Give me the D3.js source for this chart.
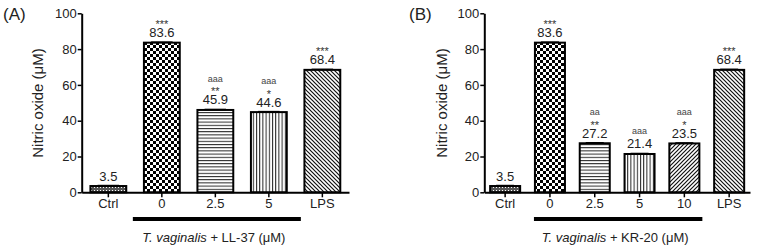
<!DOCTYPE html>
<html><head><meta charset="utf-8">
<script src="https://cdn.jsdelivr.net/npm/d3@7"></script>
<style>
html,body{margin:0;padding:0;background:#fff;}
svg{display:block;font-family:"Liberation Sans",Arial,sans-serif;}
</style></head>
<body>
<svg id="chart" width="759" height="247"></svg>
<script>
// ---- data ----
const yTicks = [0, 20, 40, 60, 80, 100];

const catsA = ["Ctrl", "0", "2.5", "5", "LPS"];
const valsA = [3.5, 83.6, 46.0, 44.8, 68.4];
const labelsA = ["3.5", "83.6", "45.9", "44.6", "68.4"];
const starsA = ["", "***", "**", "*", "***"];
const lettersA = ["", "", "aaa", "aaa", ""];
const patternsA = ["dots", "checker", "hlines", "vlines", "diagDown"];
const groupA = ["0", "5"];
const titleA = "(A)";
const xTitleA = ["T. vaginalis", " + LL-37 (μM)"];

const catsB = ["Ctrl", "0", "2.5", "5", "10", "LPS"];
const valsB = [3.5, 83.6, 27.4, 21.4, 27.3, 68.4];
const labelsB = ["3.5", "83.6", "27.2", "21.4", "23.5", "68.4"];
const starsB = ["", "***", "**", "", "*", "***"];
const lettersB = ["", "", "aa", "aaa", "aaa", ""];
const patternsB = ["dots", "checker", "hlines", "vlines", "diagUp", "diagDown"];
const groupB = ["0", "10"];
const titleB = "(B)";
const xTitleB = ["T. vaginalis", " + KR-20 (μM)"];

const yTitle = "Nitric oxide (μM)";

// ---- patterns ----
const svg = d3.select("#chart");
const defs = svg.append("defs");
function pat(id, w, h, draw) {
  const p = defs.append("pattern").attr("id", id).attr("patternUnits", "userSpaceOnUse")
    .attr("width", w).attr("height", h);
  p.append("rect").attr("width", w).attr("height", h).attr("fill", "#fff");
  draw(p);
}
pat("dots", 3, 3, p => {
  p.append("rect").attr("width", 3).attr("height", 3).attr("fill", "#555");
  p.append("rect").attr("x", 1).attr("y", 1).attr("width", 1).attr("height", 1).attr("fill", "#fff");
});
pat("checker", 6, 6, p => {
  p.append("rect").attr("width", 3).attr("height", 3).attr("fill", "#000");
  p.append("rect").attr("x", 3).attr("y", 3).attr("width", 3).attr("height", 3).attr("fill", "#000");
});
pat("hlines", 4, 3.2, p => {
  p.append("rect").attr("y", 0).attr("width", 4).attr("height", 1).attr("fill", "#222");
});
pat("vlines", 3.2, 4, p => {
  p.append("rect").attr("x", 0).attr("width", 1).attr("height", 4).attr("fill", "#222");
});
pat("diagDown", 4, 4, p => {
  p.append("path").attr("d", "M-1,-1 L5,5 M-1,3 L1,5 M3,-1 L5,1").attr("stroke", "#111").attr("stroke-width", 1.2);
});
pat("diagUp", 4, 4, p => {
  p.append("path").attr("d", "M-1,5 L5,-1 M-1,1 L1,-1 M3,5 L5,3").attr("stroke", "#111").attr("stroke-width", 1.2);
});

// ---- panel drawing ----
function panel(cfg) {
  const g = svg.append("g");
  const y = d3.scaleLinear().domain([0, 100]).range([192.3, 13.3]);
  const x = d3.scaleBand().domain(cfg.cats).range([cfg.x0, cfg.x1])
    .paddingInner(0.33).paddingOuter(cfg.pOuter);
  const bw = x.bandwidth();

  // bars
  cfg.cats.forEach((c, i) => {
    const v = cfg.vals[i];
    g.append("rect").attr("x", x(c)).attr("y", y(v)).attr("width", bw)
      .attr("height", y(0) - y(v)).attr("fill", "url(#" + cfg.pats[i] + ")")
      .attr("stroke", "#000").attr("stroke-width", 2);
    // error cap
    g.append("line").attr("x1", x(c) + bw * 0.2).attr("x2", x(c) + bw * 0.8)
      .attr("y1", y(v) - 0.5).attr("y2", y(v) - 0.5).attr("stroke", "#000").attr("stroke-width", 1.5);
    const base = y(v) - 5.5;
    const cx = x(c) + bw / 2;
    g.append("text").attr("x", cx).attr("y", base).attr("text-anchor", "middle")
      .attr("font-size", 13).attr("fill", "#222").text(cfg.labels[i]);
    if (cfg.stars[i]) {
      g.append("text").attr("x", cx).attr("y", base - 9).attr("text-anchor", "middle")
        .attr("font-size", 11).attr("fill", "#333").text(cfg.stars[i]);
    }
    if (cfg.letters[i]) {
      g.append("text").attr("x", cx).attr("y", base - (cfg.stars[i] ? 22.5 : 14.5)).attr("text-anchor", "middle")
        .attr("font-size", 9).attr("fill", "#444").text(cfg.letters[i]);
    }
  });

  // y axis
  const ya = g.append("g").attr("transform", `translate(${cfg.x0},0)`)
    .call(d3.axisLeft(y).tickValues(yTicks).tickSize(4).tickPadding(1).tickSizeOuter(0));
  ya.select(".domain").attr("stroke", "#000").attr("stroke-width", 2);
  ya.selectAll(".tick line").attr("stroke", "#000").attr("stroke-width", 1.5);
  ya.selectAll(".tick text").attr("font-size", 13).attr("fill", "#222")
    .attr("font-family", "Liberation Sans, Arial, sans-serif");

  // x axis
  const xa = g.append("g").attr("transform", `translate(0,${y(0)})`)
    .call(d3.axisBottom(x).tickSize(5).tickPadding(1).tickSizeOuter(0));
  xa.select(".domain").attr("stroke", "#000").attr("stroke-width", 2);
  xa.selectAll(".tick line").attr("stroke", "#000").attr("stroke-width", 1.5);
  xa.selectAll(".tick text").attr("font-size", 13).attr("fill", "#222")
    .attr("font-family", "Liberation Sans, Arial, sans-serif");

  // group bar
  const gx0 = x(cfg.group[0]) + bw / 2 + cfg.gOff[0];
  const gx1 = x(cfg.group[1]) + bw / 2 + cfg.gOff[1];
  g.append("rect").attr("x", gx0).attr("y", 217).attr("width", gx1 - gx0).attr("height", 4).attr("fill", "#000");
  const t = g.append("text").attr("x", (gx0 + gx1) / 2 - 3).attr("y", 241.5).attr("text-anchor", "middle")
    .attr("font-size", 13).attr("fill", "#222");
  t.append("tspan").attr("font-style", "italic").text(cfg.xTitle[0]);
  t.append("tspan").text(cfg.xTitle[1]);

  // y title
  g.append("text").attr("transform", `translate(${cfg.yTitleX},103) rotate(-90)`)
    .attr("text-anchor", "middle").attr("dy", "0.35em").attr("font-size", 15).attr("fill", "#222").text(yTitle);

  // panel label
  g.append("text").attr("x", cfg.labelX).attr("y", 20).attr("font-size", 17).attr("fill", "#222").text(cfg.title);
}

panel({cats: catsA, vals: valsA, labels: labelsA, stars: starsA, letters: lettersA, pats: patternsA,
  group: groupA, xTitle: xTitleA, title: titleA,
  x0: 81.7, x1: 349, pOuter: 0.163, gOff: [-29, 32], yTitleX: 38, labelX: 3});
panel({cats: catsB, vals: valsB, labels: labelsB, stars: starsB, letters: lettersB, pats: patternsB,
  group: groupB, xTitle: xTitleB, title: titleB,
  x0: 484.3, x1: 750, pOuter: 0.13, gOff: [-16, 18], yTitleX: 441.7, labelX: 409});
</script>
</body></html>
